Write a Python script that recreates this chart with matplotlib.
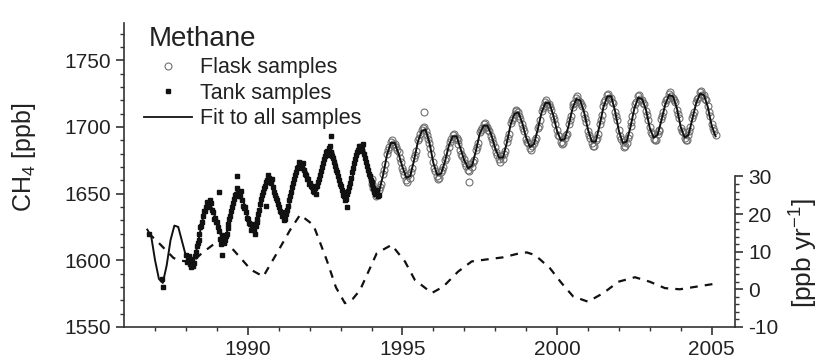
import numpy as np
import matplotlib
matplotlib.use("Agg")
from matplotlib import pyplot as plt
from matplotlib.ticker import FixedLocator

plt.rcParams['font.family'] = ['Liberation Sans', 'DejaVu Sans']
plt.rcParams['mathtext.fontset'] = 'custom'
plt.rcParams['mathtext.rm'] = 'Liberation Sans'
plt.rcParams['mathtext.it'] = 'Liberation Sans'
plt.rcParams['axes.unicode_minus'] = False

# fit to all samples, every 1/8 yr starting 1986.75
fit_start = 1986.75
fit_ch4 = [
    1623, 1618,
    1600, 1586, 1583, 1596, 1615, 1626, 1625, 1614,
    1603, 1598, 1599, 1611, 1627, 1638, 1642, 1638,
    1628, 1619, 1617, 1624, 1638, 1648, 1650, 1643,
    1632, 1625, 1625, 1635, 1650, 1660, 1660, 1652,
    1641, 1634, 1634, 1645, 1660, 1670, 1672, 1668,
    1660, 1653, 1653, 1662, 1674, 1682, 1682, 1672,
    1658, 1649, 1649, 1661, 1675, 1684, 1684, 1674,
    1660, 1651, 1652, 1664, 1679, 1688, 1688, 1680,
    1670, 1662, 1663, 1675, 1689, 1697, 1698, 1688,
    1673, 1664, 1665, 1674, 1686, 1693, 1693, 1684,
    1675, 1669, 1671, 1682, 1695, 1701, 1701, 1694,
    1684, 1677, 1677, 1688, 1702, 1710, 1711, 1703,
    1692, 1685, 1687, 1698, 1711, 1718, 1718, 1709,
    1697, 1690, 1691, 1701, 1714, 1721, 1720, 1711,
    1698, 1689, 1689, 1701, 1715, 1723, 1723, 1712,
    1697, 1688, 1689, 1700, 1714, 1722, 1721, 1713,
    1699, 1692, 1694, 1705, 1717, 1724, 1723, 1714,
    1700, 1692, 1694, 1706, 1718, 1725, 1724, 1715,
    1701, 1693,
]

# tank samples, two sets every 1/16 yr from 1988.0 (second shifted 1/32), plus single ones
tank_start = 1988.0
tank_ch4 = [
    1604, 1600, 1597, 1601, 1598, 1606, 1613, 1620, 1626, 1633, 1637, 1644, 1641, 1643, 1636, 1632,
    1629, 1622, 1612, 1618, 1615, 1620, 1627, 1633, 1640, 1646, 1650, 1652, 1648, 1645, 1639, 1636,
    1631, 1627, 1624, 1623, 1626, 1631, 1638, 1646, 1651, 1656, 1660, 1662, 1658, 1655, 1649, 1645,
    1640, 1636, 1633, 1631, 1636, 1641, 1648, 1655, 1661, 1666, 1670, 1673, 1671, 1668, 1664, 1661,
    1658, 1655, 1651, 1654, 1656, 1661, 1667, 1673, 1678, 1682, 1684, 1681, 1677, 1671, 1666, 1660,
    1656, 1651, 1648, 1646, 1652, 1658, 1666, 1673, 1679, 1683, 1686, 1684, 1680, 1674, 1668, 1663,
    1659, 1654, 1650, 1652, 1649,
]
tank2_ch4 = [
    1599, 1603, 1595, 1596, 1603, 1611, 1615, 1625, 1629, 1637, 1640, 1640, 1645, 1638, 1631, 1629,
    1625, 1616, 1619, 1613, 1618, 1624, 1631, 1637, 1643, 1649, 1654, 1648, 1652, 1641, 1640, 1632,
    1628, 1623, 1627, 1620, 1629, 1635, 1642, 1649, 1654, 1659, 1664, 1659, 1661, 1651, 1647, 1642,
    1637, 1633, 1630, 1635, 1638, 1645, 1651, 1658, 1664, 1669, 1674, 1669, 1673, 1665, 1661, 1657,
    1656, 1652, 1656, 1650, 1659, 1664, 1670, 1676, 1681, 1679, 1686, 1678, 1674, 1668, 1663, 1657,
    1653, 1649, 1645, 1650, 1655, 1662, 1669, 1676, 1681, 1686, 1682, 1687, 1677, 1671, 1665, 1660,
    1657, 1651, 1653, 1648,
]
tank_extra_year = [1986.8, 1987.22, 1987.25, 1989.08, 1989.15, 1989.66, 1990.6, 1992.68, 1993.22]
tank_extra_ch4 = [1620, 1586, 1580, 1651, 1604, 1663, 1641, 1693, 1640]

# flask samples, every 1/16 yr from 1994.0, and a second set every 1/8 yr
flask_start = 1994.0
flask_ch4 = [
    1661, 1654, 1652, 1649, 1653, 1657, 1665, 1672, 1680, 1685, 1689, 1687, 1687, 1683, 1681, 1674,
    1669, 1664, 1660, 1664, 1662, 1669, 1677, 1682, 1690, 1695, 1698, 1700, 1697, 1691, 1688, 1680,
    1674, 1667, 1663, 1662, 1666, 1670, 1675, 1681, 1685, 1691, 1694, 1692, 1692, 1687, 1683, 1678,
    1676, 1671, 1668, 1672, 1670, 1675, 1683, 1688, 1696, 1699, 1702, 1700, 1700, 1697, 1693, 1688,
    1685, 1679, 1676, 1678, 1676, 1682, 1689, 1695, 1703, 1707, 1710, 1712, 1711, 1706, 1702, 1697,
    1691, 1688, 1684, 1686, 1688, 1692, 1699, 1705, 1712, 1716, 1719, 1717, 1717, 1713, 1708, 1702,
    1698, 1693, 1689, 1688, 1692, 1695, 1702, 1708, 1715, 1718, 1722, 1720, 1719, 1716, 1710, 1704,
    1697, 1692, 1688, 1686, 1690, 1695, 1702, 1709, 1716, 1720, 1724, 1722, 1722, 1718, 1711, 1705,
    1698, 1691, 1689, 1686, 1688, 1694, 1701, 1708, 1713, 1719, 1723, 1721, 1720, 1717, 1712, 1705,
    1700, 1695, 1691, 1690, 1695, 1698, 1706, 1711, 1718, 1721, 1725, 1723, 1722, 1719, 1713, 1707,
    1699, 1696, 1692, 1690, 1694, 1700, 1707, 1711, 1719, 1722, 1726, 1724, 1724, 1720, 1716, 1708,
    1702, 1697, 1694,
]
flask2_ch4 = [
    1657, 1648, 1655, 1668, 1683, 1690, 1685, 1677,
    1667, 1659, 1666, 1679, 1692, 1699, 1694, 1684,
    1669, 1661, 1668, 1677, 1689, 1695, 1690, 1680,
    1673, 1667, 1674, 1685, 1698, 1703, 1698, 1691,
    1681, 1674, 1680, 1692, 1705, 1713, 1708, 1699,
    1689, 1683, 1690, 1701, 1714, 1720, 1715, 1706,
    1694, 1687, 1694, 1705, 1717, 1723, 1717, 1707,
    1694, 1686, 1692, 1705, 1719, 1725, 1719, 1708,
    1693, 1685, 1692, 1704, 1717, 1724, 1718, 1709,
    1696, 1690, 1697, 1708, 1720, 1726, 1720, 1710,
    1697, 1690, 1697, 1709, 1721, 1727, 1721, 1711,
    1699,
]
flask_extra_year = [1995.7, 1997.15]
flask_extra_ch4 = [1711, 1659]

# growth rate (right axis)
rate_year = [1986.78, 1987.16, 1987.6, 1987.85, 1988.2, 1988.5, 1988.9, 1989.2, 1989.53, 1989.8,
             1990.1, 1990.5, 1990.94, 1991.37, 1991.69, 1992.12, 1992.55, 1992.85, 1993.14, 1993.4,
             1993.63, 1994.17, 1994.65, 1995.08, 1995.4, 1995.95, 1996.32, 1996.8, 1997.24, 1997.78,
             1998.26, 1998.8, 1999.02, 1999.29, 1999.77, 2000.15, 2000.52, 2001.0, 2001.5, 2001.98,
             2002.52, 2003.0, 2003.49, 2003.97, 2004.51, 2005.05]
rate = [15.0, 12.0, 8.3, 7.6, 7.2, 9.5, 12.0, 12.5, 10.5, 8.0,
        5.2, 3.4, 9.6, 15.8, 19.8, 17.1, 7.8, 0.5, -3.7, -2.5,
        -0.2, 9.6, 11.8, 7.4, 2.5, -1.0, 0.7, 4.7, 7.4, 8.0,
        8.5, 9.6, 9.8, 9.1, 5.6, 1.6, -1.9, -3.3, -1.0, 2.0,
        3.2, 2.0, 0.3, 0.0, 0.7, 1.4]

fit_year = fit_start + np.arange(len(fit_ch4)) / 8
tank_year = tank_start + np.arange(len(tank_ch4)) / 16
tank2_year = tank_start + 1 / 32 + np.arange(len(tank2_ch4)) / 16
flask_year = flask_start + np.arange(len(flask_ch4)) / 16
flask2_year = flask_start + 1 / 32 + np.arange(len(flask2_ch4)) / 8

txt = '#222222'
grey = '#707070'
fig = plt.figure(figsize=(8.22, 3.6), dpi=100)
ax = fig.add_axes([0.151, 0.092, 0.743, 0.844])

fkw = dict(ls='none', marker='o', ms=5, mfc='none', mec=grey, mew=0.8, zorder=2)
tkw = dict(ls='none', marker='s', ms=3.4, color='#111111', zorder=4)
ax.plot(flask_year, flask_ch4, **fkw)
ax.plot(flask2_year, flask2_ch4, **fkw)
ax.plot(flask_extra_year, flask_extra_ch4, **fkw)
ax.plot(fit_year, fit_ch4, '-', color='#111111', lw=1.4, zorder=3)
ax.plot(tank_year, tank_ch4, **tkw)
ax.plot(tank2_year, tank2_ch4, **tkw)
ax.plot(tank_extra_year, tank_extra_ch4, **tkw)

# legend
fl = ax.plot([], [], label='Flask samples', **fkw)[0]
tk = ax.plot([], [], label='Tank samples', **tkw)[0]
ft = ax.plot([], [], '-', color='#111111', lw=1.3, label='Fit to all samples')[0]
leg = ax.legend(handles=[fl, tk, ft], loc='upper left', bbox_to_anchor=(0.019, 0.915),
                frameon=False, fontsize=15.5, handlelength=2.2, handletextpad=0.4,
                labelspacing=0.2, numpoints=1, borderaxespad=0)
for t in leg.get_texts():
    t.set_color(txt)
ax.text(0.04, 0.99, 'Methane', transform=ax.transAxes, fontsize=20, color=txt,
        ha='left', va='top')

ax.set_xlim(1986.0, 2005.75)
ax.set_ylim(1550, 1778)
ax.set_xticks([1990, 1995, 2000, 2005])
ax.xaxis.set_minor_locator(FixedLocator(np.arange(1987, 2006, 1)))
ax.set_yticks([1550, 1600, 1650, 1700, 1750])
ax.yaxis.set_minor_locator(FixedLocator(np.arange(1560, 1780, 10)))
ax.tick_params(which='major', direction='out', length=6, width=1.2, labelsize=15,
               colors='#333333', labelcolor=txt)
ax.tick_params(which='minor', direction='out', length=3, width=1.0, colors='#333333')
for s in ['top', 'right']:
    ax.spines[s].set_visible(False)
for s in ['left', 'bottom']:
    ax.spines[s].set_linewidth(1.2)
    ax.spines[s].set_color('#333333')
fig.text(24 / 822, 1 - 157 / 360, 'CH$_4$ [ppb]', rotation=90, fontsize=18, color=txt,
         ha='center', va='center')

ax2 = ax.twinx()
ax2.plot(rate_year, rate, color='#111111', lw=1.6, linestyle=(0, (3.5, 3.2)))
ax2.set_ylim(-10, 70.8)
ax2.set_yticks([-10, 0, 10, 20, 30])
ax2.yaxis.set_minor_locator(FixedLocator(np.arange(-8, 30, 2)))
ax2.spines['right'].set_bounds(-10, 30)
for s in ['top', 'left', 'bottom']:
    ax2.spines[s].set_visible(False)
ax2.spines['right'].set_linewidth(1.2)
ax2.spines['right'].set_color('#333333')
ax2.tick_params(which='major', direction='out', length=6, width=1.2, labelsize=15,
                colors='#333333', labelcolor=txt)
ax2.tick_params(which='minor', direction='out', length=3, width=1.0, colors='#333333')
fig.text(804 / 822, 1 - 253 / 360, '[ppb yr$^{-1}$]', rotation=90, fontsize=19, color=txt,
         ha='center', va='center')

fig.savefig('out.png', dpi=100)
